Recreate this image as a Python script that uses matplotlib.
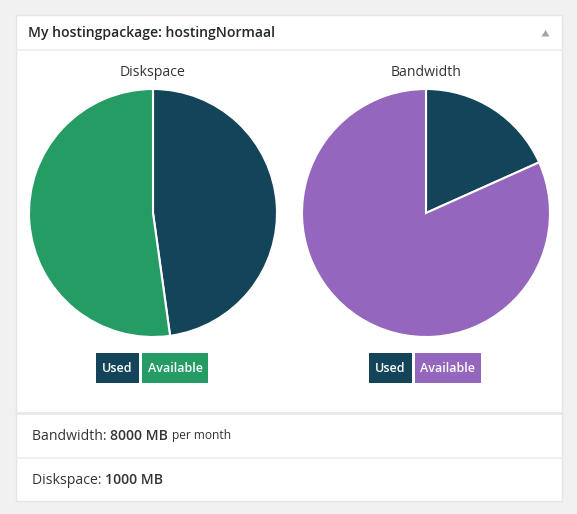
import matplotlib
matplotlib.use("Agg")
import matplotlib.pyplot as plt
from matplotlib.patches import Rectangle, Polygon

plt.rcParams['font.family'] = ['Open Sans', 'DejaVu Sans']

# data
panel_title = "My hostingpackage: hostingNormaal"
chart_titles = ["Diskspace", "Bandwidth"]
slice_labels = ["Used", "Available"]
disk_values = [47.8, 52.2]
bandwidth_values = [18.3, 81.7]
used_color = "#134459"
available_colors = ["#249c63", "#9466bd"]
bandwidth_limit = "8000 MB"
diskspace_limit = "1000 MB"

W, H = 577, 514
fig = plt.figure(figsize=(W / 100, H / 100), dpi=100)
fig.patch.set_facecolor("#f1f1f1")

# background axes in pixel coordinates (y down)
bg = fig.add_axes([0, 0, 1, 1])
bg.set_xlim(0, W)
bg.set_ylim(H, 0)
bg.axis("off")

def px(size):
    return size * 72 / 100

# panel box
bg.add_patch(Rectangle((15.5, 14.5), 546.5, 486, facecolor="white", edgecolor="#e5e5e5", lw=1))
bg.plot([16, 562], [50, 50], color="#eeeeee", lw=1.2)
bg.plot([16, 562], [413, 413], color="#e8e8e8", lw=2)
bg.plot([16, 562], [458, 458], color="#eeeeee", lw=1.2)

bg.text(28, 33, panel_title, fontsize=px(14), fontweight="semibold", color="#23282d", va="center")
bg.add_patch(Polygon([[541.5, 36.5], [549.5, 36.5], [545.5, 30]], closed=True, facecolor="#a0a5aa", edgecolor="none"))

# pies
centers = [153, 426]
radius = 124
cy = 213
all_values = [disk_values, bandwidth_values]
for i in range(2):
    cx = centers[i]
    ax = fig.add_axes([(cx - radius) / W, (H - cy - radius) / H, 2 * radius / W, 2 * radius / H])
    wedges, _ = ax.pie(all_values[i], colors=[used_color, available_colors[i]], startangle=90, counterclock=False,
                       radius=1, wedgeprops=dict(edgecolor="white", linewidth=1.5))
    for w in wedges:
        w.set_clip_on(False)
    ax.set_xlim(-1, 1)
    ax.set_ylim(-1, 1)
    ax.set_aspect("equal")
    ax.axis("off")

    bg.text(cx, 72, chart_titles[i], fontsize=px(14), color="#333333", ha="center", va="center")

    # legend boxes
    used_left = cx - 57
    bg.add_patch(Rectangle((used_left, 353), 43, 30, facecolor=used_color, edgecolor="none"))
    bg.text(used_left + 21.5, 368.5, slice_labels[0], fontsize=px(12.5), fontweight="semibold", color="white",
            ha="center", va="center")
    avail_left = used_left + 46
    bg.add_patch(Rectangle((avail_left, 353), 66, 30, facecolor=available_colors[i], edgecolor="none"))
    bg.text(avail_left + 33, 368.5, slice_labels[1], fontsize=px(12.5), fontweight="semibold", color="white",
            ha="center", va="center")

# info rows
t = bg.text(32, 436, "Bandwidth: ", fontsize=px(14), color="#333333", va="center")
t2 = bg.annotate(bandwidth_limit + " ", xycoords=t, xy=(1, 0.5), va="center", fontsize=px(14),
                 fontweight="semibold", color="#333333")
bg.annotate("per month", xycoords=t2, xy=(1, 0.5), va="center", fontsize=px(12), color="#333333")

t = bg.text(32, 480, "Diskspace: ", fontsize=px(14), color="#333333", va="center")
bg.annotate(diskspace_limit, xycoords=t, xy=(1, 0.5), va="center", fontsize=px(14),
            fontweight="semibold", color="#333333")

fig.savefig("out.png", dpi=100, facecolor=fig.get_facecolor())
